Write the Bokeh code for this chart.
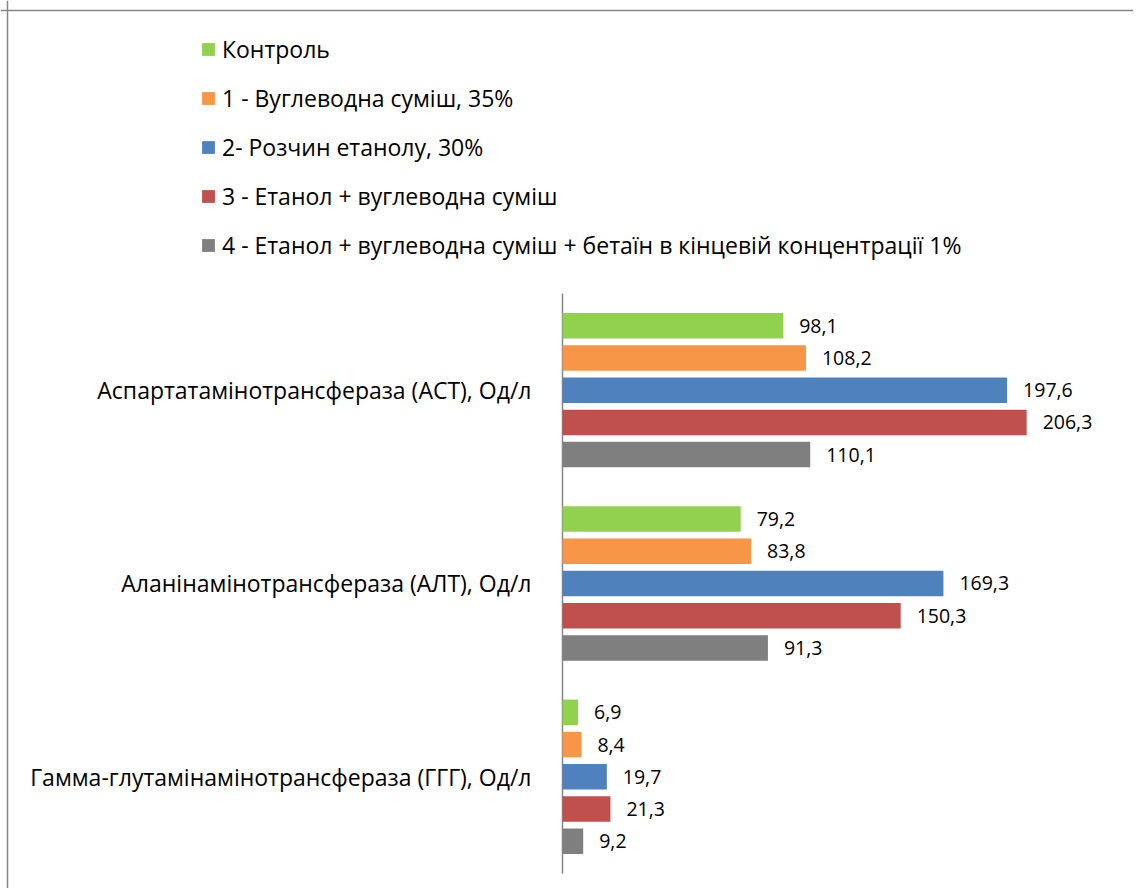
from bokeh.plotting import figure
from bokeh.models import Range1d, ColumnDataSource, Legend, LegendItem, Span
from bokeh.core.properties import value
from bokeh.embed import file_html
from bokeh.resources import INLINE

categories = [
    "Аспартатамінотрансфераза (АСТ), Од/л",
    "Аланінамінотрансфераза (АЛТ), Од/л",
    "Гамма-глутамінамінотрансфераза (ГГГ), Од/л",
]
series_names = [
    "Контроль",
    "1 - Вуглеводна суміш, 35%",
    "2- Розчин етанолу, 30%",
    "3 - Етанол + вуглеводна суміш",
    "4 - Етанол + вуглеводна суміш + бетаїн в кінцевій концентрації 1%",
]
control = [98.1, 79.2, 6.9]
carb_mix = [108.2, 83.8, 8.4]
ethanol = [197.6, 169.3, 19.7]
ethanol_carb = [206.3, 150.3, 21.3]
ethanol_carb_betaine = [110.1, 91.3, 9.2]
series_values = [control, carb_mix, ethanol, ethanol_carb, ethanol_carb_betaine]
colors = ["#92D050", "#F79646", "#4F81BD", "#C0504D", "#7F7F7F"]

FONT = "Open Sans"
GRAY = "#868686"

W, H = 1133, 888
PX_PER_UNIT_X = 2.25
PX_PER_UNIT_Y = 193.33
AXIS_PX = 562      # axis position from frame left
TOP_PX = 293       # data y=0 from frame top

x0 = -AXIS_PX / PX_PER_UNIT_X
x1 = (W - AXIS_PX) / PX_PER_UNIT_X
y_top = -TOP_PX / PX_PER_UNIT_Y
y_bot = y_top + H / PX_PER_UNIT_Y

p = figure(
    width=W, height=H,
    x_range=Range1d(x0, x1),
    y_range=Range1d(y_bot, y_top),
    output_backend="svg", toolbar_location=None,
    min_border=0,
)
p.outline_line_color = None
p.xaxis.visible = False
p.yaxis.visible = False
p.xgrid.visible = False
p.ygrid.visible = False
p.background_fill_color = "white"

# chart border (top and left edges visible in reference)
p.add_layout(Span(location=y_top + 10 / PX_PER_UNIT_Y, dimension="width",
                  line_color=GRAY, line_width=1.5))
p.add_layout(Span(location=x0 + 7 / PX_PER_UNIT_X, dimension="height",
                  line_color=GRAY, line_width=1.5))

n_cat = len(categories)
# category axis line
p.segment(x0=[0], y0=[0], x1=[0], y1=[n_cat], line_color=GRAY, line_width=1.5)
# category labels
p.text(x=[0] * n_cat, y=[g + 0.5 for g in range(n_cat)], text=categories,
       x_offset=-31, text_align="right", text_baseline="middle",
       text_font=value(FONT), text_font_size="23px", text_color="#000000")

items = []
n = len(series_values)
for s, (name, vals, col) in enumerate(zip(series_names, series_values, colors)):
    ys = [g + 0.5 + (s - (n - 1) / 2) / 6 for g in range(len(vals))]
    labels = [f"{v:.1f}".replace(".", ",") for v in vals]
    src = ColumnDataSource(dict(y=ys, v=vals, lab=labels))
    r = p.hbar(y="y", left=0, right="v", height=0.132, source=src,
               fill_color=col, line_color=None)
    p.text(x="v", y="y", text="lab", source=src, x_offset=16,
           text_baseline="middle", text_align="left",
           text_font=value(FONT), text_font_size="19.5px", text_color="#000000")
    items.append(LegendItem(label=name, renderers=[r]))

legend = Legend(
    items=items, location=(200, 627),
    glyph_width=16, glyph_height=16, label_standoff=6,
    label_height=32, spacing=17, padding=0, margin=0,
    border_line_color=None, background_fill_alpha=0,
    label_text_font=FONT, label_text_font_size="23px", label_text_color="#000000",
)
p.add_layout(legend, "center")

open("out.html", "w").write(file_html(p, INLINE))
